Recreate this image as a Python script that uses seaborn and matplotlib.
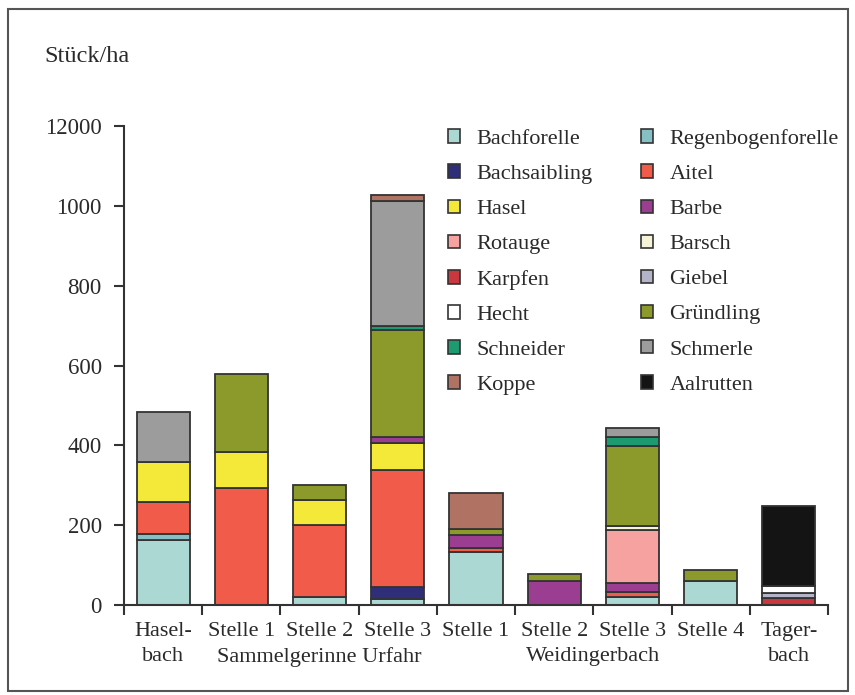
import numpy as np
import pandas as pd
import matplotlib
matplotlib.use("Agg")
import matplotlib.pyplot as plt
import seaborn as sns
from matplotlib.patches import Patch, Rectangle

# --- DATA (Stück/ha) ---
sites = ["Haselbach", "Sammel S1", "Sammel S2", "Sammel S3",
         "Weid S1", "Weid S2", "Weid S3", "Weid S4", "Tagerbach"]
tick_line1 = ["Hasel-", "Stelle 1", "Stelle 2", "Stelle 3", "Stelle 1",
              "Stelle 2", "Stelle 3", "Stelle 4", "Tager-"]
group_labels = ["bach", "Sammelgerinne Urfahr", "Weidingerbach", "bach"]
group_pos = [0, 2, 5.5, 8]
y_ticks = [0, 200, 400, 600, 800, 1000, 1200]
y_ticklabels = ["0", "200", "400", "600", "800", "1000", "12000"]

species = ["Bachforelle", "Regenbogenforelle", "Bachsaibling", "Aitel",
           "Hasel", "Barbe", "Rotauge", "Barsch", "Karpfen", "Giebel",
           "Hecht", "Gründling", "Schneider", "Schmerle", "Koppe", "Aalrutten"]

bachforelle = [163, 0, 19, 14, 134, 0, 21, 59, 0]
regenbogenforelle = [14, 0, 0, 0, 0, 0, 0, 0, 0]
bachsaibling = [0, 0, 0, 30, 0, 0, 0, 0, 0]
aitel = [80, 294, 182, 295, 8, 0, 12, 0, 0]
hasel = [101, 89, 63, 68, 0, 0, 0, 0, 0]
barbe = [0, 0, 0, 14, 34, 60, 21, 0, 0]
rotauge = [0, 0, 0, 0, 0, 0, 134, 0, 0]
barsch = [0, 0, 0, 0, 0, 0, 10, 0, 0]
karpfen = [0, 0, 0, 0, 0, 0, 0, 0, 17]
giebel = [0, 0, 0, 0, 0, 0, 0, 0, 12]
hecht = [0, 0, 0, 0, 0, 0, 0, 0, 19]
gruendling = [0, 195, 37, 267, 14, 17, 201, 28, 0]
schneider = [0, 0, 0, 10, 0, 0, 22, 0, 0]
schmerle = [125, 0, 0, 313, 0, 0, 22, 0, 0]
koppe = [0, 0, 0, 16, 90, 0, 0, 0, 0]
aalrutten = [0, 0, 0, 0, 0, 0, 0, 0, 200]

colors = ["#acd8d4", "#86bfc4", "#2e2f78", "#f15c4a", "#f4e838", "#9b3d90",
          "#f6a2a0", "#f6f4d8", "#c8383e", "#b4b4c8", "#ffffff", "#8c9a2c",
          "#1c9a70", "#9c9c9c", "#b07262", "#141414"]

values = [bachforelle, regenbogenforelle, bachsaibling, aitel, hasel, barbe,
          rotauge, barsch, karpfen, giebel, hecht, gruendling, schneider,
          schmerle, koppe, aalrutten]

# --- STYLE ---
sns.set_theme(style="white")
plt.rcParams['font.family'] = ['Liberation Serif', 'DejaVu Serif']
FS = 16
TXT = "#2a2a2a"
EDGE = "#333333"

fig = plt.figure(figsize=(8.55, 6.95), dpi=100)
ax = fig.add_axes([124 / 855, 1 - 605 / 695, (828 - 124) / 855, (605 - 126) / 695])

bottom = np.zeros(len(sites))
for name, vals, col in zip(species, values, colors):
    vals = np.array(vals, dtype=float)
    n_before = len(ax.patches)
    sns.barplot(x=np.arange(len(sites)), y=vals, bottom=bottom, color=col,
                saturation=1, width=0.68, edgecolor=EDGE, linewidth=1.3,
                ax=ax, errorbar=None)
    # hide zero-height segments so they don't leave stray edge lines
    for p in ax.patches[n_before:]:
        if p.get_height() == 0:
            p.set_visible(False)
    bottom += vals

ax.set_xlim(-0.5, len(sites) - 0.5)
ax.set_ylim(0, 1200)

# axes look
for s in ["top", "right"]:
    ax.spines[s].set_visible(False)
for s in ["left", "bottom"]:
    ax.spines[s].set_color(EDGE)
    ax.spines[s].set_linewidth(1.5)

ax.set_yticks(y_ticks)
ax.set_yticklabels(y_ticklabels, fontsize=FS + 0.5, color=TXT)
ax.tick_params(axis="y", direction="out", length=7, width=1.5, color=EDGE, pad=9, left=True)

ax.set_xticks(np.arange(len(sites)))
ax.set_xticklabels(tick_line1, fontsize=FS, color=TXT)
ax.set_xticks(np.arange(-0.5, len(sites)), minor=True)
ax.tick_params(axis="x", which="major", length=0, pad=12)
ax.tick_params(axis="x", which="minor", direction="out", length=7, width=1.5,
               color=EDGE, bottom=True)
ax.set_xlabel("")
ax.set_ylabel("")

for lab, xp in zip(group_labels, group_pos):
    ax.text(xp, -0.108, lab, transform=ax.get_xaxis_transform(), ha="center",
            va="center", fontsize=FS, color=TXT)

fig.text(44 / 855, 1 - 57 / 695, "Stück/ha", ha="left", va="center",
         fontsize=FS + 1.5, color=TXT)

# legend: 2 columns, read row-wise
handles = [Patch(facecolor=c, edgecolor=EDGE, linewidth=1.2) for c in colors]
order = list(range(0, 16, 2)) + list(range(1, 16, 2))
fig.legend([handles[i] for i in order], [species[i] for i in order],
           ncol=2, loc="upper left", bbox_to_anchor=(448 / 855, 1 - 129 / 695),
           frameon=False, fontsize=FS, handlelength=0.55, handleheight=0.55,
           handletextpad=0.72, columnspacing=2.2, labelspacing=0.7,
           borderaxespad=0, borderpad=0, labelcolor=TXT)

# outer frame
fig.patches.append(Rectangle((8 / 855, 4 / 695), 840 / 855, 682 / 695,
                             transform=fig.transFigure, fill=False,
                             edgecolor="#555555", linewidth=1.5))

fig.savefig("out.png", dpi=100)
